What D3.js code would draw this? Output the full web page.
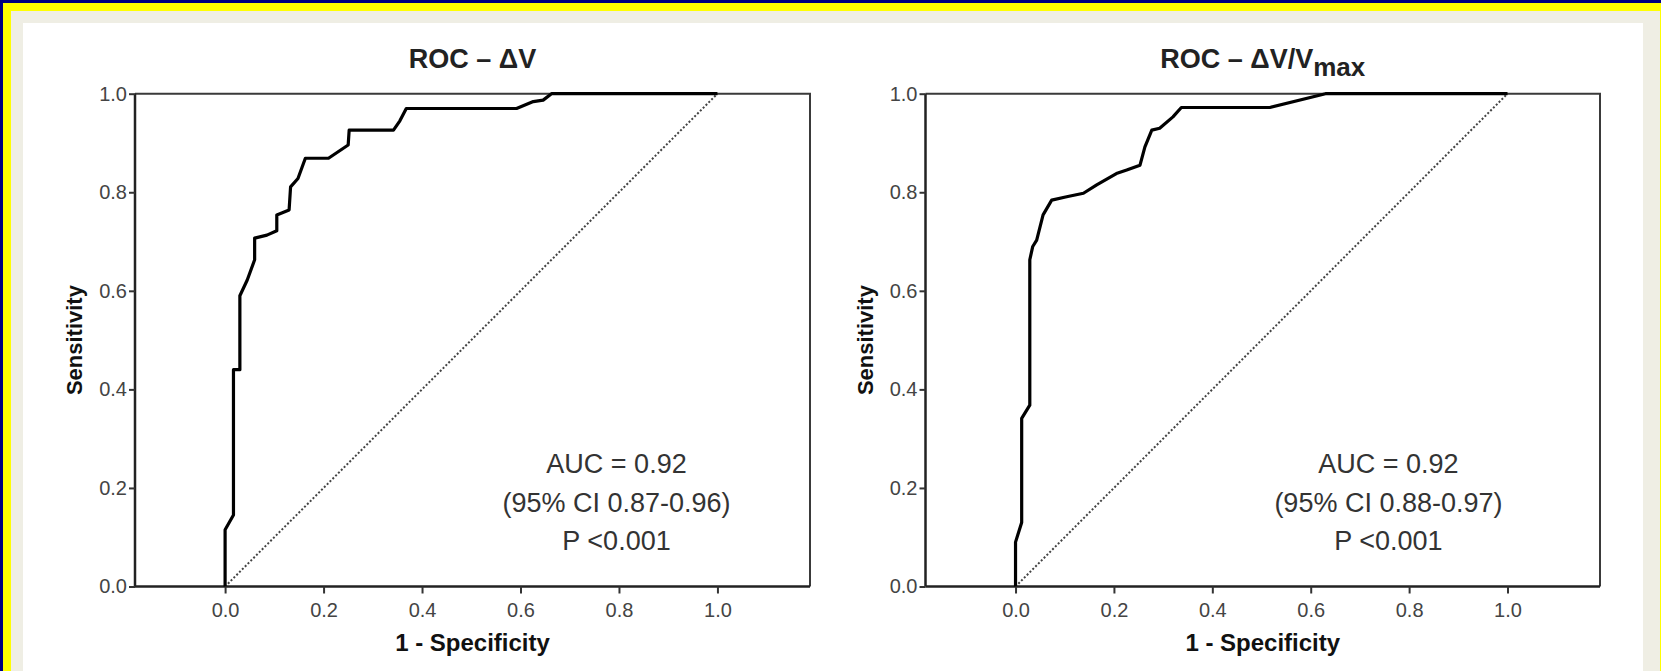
<!DOCTYPE html>
<html>
  <head>
    <title>ROC curves - dV and dV/Vmax</title>
    <script src="https://cdn.jsdelivr.net/npm/d3@7/dist/d3.min.js"></script>
    <style>
      body { margin: 0; background: #000080; }
      svg { display: block; }
      .narrow { font-family: "Liberation Sans Narrow", "Arial Narrow", "Liberation Sans", sans-serif; }
    </style>
  </head>
  <body>
    <svg id="svg" width="1661" height="671" xmlns="http://www.w3.org/2000/svg"></svg>
    <script>
      let svg = d3.select("svg");

      // ROC points, [1 - specificity, sensitivity]
      let rocDeltaV = [
        [0.000, 0.000], [0.000, 0.115], [0.017, 0.145], [0.017, 0.440],
        [0.030, 0.440], [0.030, 0.590], [0.045, 0.622], [0.060, 0.663],
        [0.060, 0.707], [0.085, 0.713], [0.105, 0.722], [0.105, 0.754],
        [0.130, 0.764], [0.133, 0.811], [0.148, 0.828], [0.163, 0.869],
        [0.210, 0.869], [0.250, 0.896], [0.252, 0.926], [0.342, 0.926],
        [0.355, 0.945], [0.368, 0.970], [0.592, 0.970], [0.626, 0.984],
        [0.646, 0.987], [0.663, 1.000], [1.000, 1.000]
      ];
      let rocDeltaVmax = [
        [0.000, 0.000], [0.000, 0.090], [0.0125, 0.130], [0.0125, 0.341],
        [0.029, 0.368], [0.029, 0.663], [0.035, 0.690], [0.043, 0.703],
        [0.056, 0.754], [0.0735, 0.784], [0.104, 0.791], [0.138, 0.798],
        [0.165, 0.815], [0.205, 0.838], [0.226, 0.845], [0.253, 0.855],
        [0.263, 0.892], [0.277, 0.926], [0.293, 0.930], [0.320, 0.953],
        [0.337, 0.972], [0.517, 0.972], [0.630, 1.000], [1.000, 1.000]
      ];
      let refLine = [[0, 0], [1, 1]];

      let xTicks = [0, 0.2, 0.4, 0.6, 0.8, 1.0];
      let yTicks = [0, 0.2, 0.4, 0.6, 0.8, 1.0];

      let statsDeltaV = ["AUC = 0.92", "(95% CI 0.87-0.96)", "P <0.001"];
      let statsDeltaVmax = ["AUC = 0.92", "(95% CI 0.88-0.97)", "P <0.001"];

      // Frame round the figure
      svg.append("rect").attr("x", 0).attr("y", 0).attr("width", 1661).attr("height", 671).attr("fill", "#000080");
      svg.append("rect").attr("x", 3).attr("y", 3).attr("width", 1658).attr("height", 668).attr("fill", "#ffff00");
      svg.append("rect").attr("x", 11).attr("y", 11).attr("width", 1649).attr("height", 660).attr("fill", "#efeee4");
      svg.append("rect").attr("x", 23).attr("y", 23).attr("width", 1620).attr("height", 648).attr("fill", "#ffffff");

      draw({ left: 135, right: 810, data: rocDeltaV, stats: statsDeltaV, statsX: 0.795, sub: null });
      draw({ left: 925.5, right: 1600, data: rocDeltaVmax, stats: statsDeltaVmax, statsX: 0.758, sub: "max" });

      // One ROC panel
      function draw(p) {
        let top = 93.7, bottom = 586.5;
        let x = d3.scaleLinear().domain([-0.183, 1.188]).range([p.left, p.right]);
        let y = d3.scaleLinear().domain([0, 1]).range([bottom, top]);
        let g = svg.append("g");

        // Box, top and right sides
        g.append("path")
          .attr("d", "M" + p.left + "," + top + "H" + p.right + "V" + bottom)
          .attr("fill", "none")
          .attr("stroke", "#3a3a3a")
          .attr("stroke-width", 2);

        // Axes
        let yAxis = g.append("g")
          .attr("transform", "translate(" + p.left + ",0)")
          .call(d3.axisLeft(y).tickValues(yTicks).tickFormat(d3.format(".1f")).tickSize(6).tickPadding(2));
        let xAxis = g.append("g")
          .attr("transform", "translate(0," + bottom + ")")
          .call(d3.axisBottom(x).tickValues(xTicks).tickFormat(d3.format(".1f")).tickSize(7).tickPadding(9));
        [xAxis, yAxis].forEach(function (a) {
          a.select(".domain").attr("stroke", "#222").attr("stroke-width", 2.5);
          a.selectAll(".tick line").attr("stroke", "#333").attr("stroke-width", 2);
          a.selectAll(".tick text")
            .attr("class", "narrow")
            .attr("fill", "#444")
            .style("font-size", "20px");
        });
        yAxis.select(".domain").attr("d", "M0," + top + "V" + bottom);
        xAxis.select(".domain").attr("d", "M" + p.left + ",0H" + p.right);

        // Reference diagonal
        g.append("path")
          .datum(refLine)
          .attr("d", d3.line().x((d) => x(d[0])).y((d) => y(d[1])))
          .attr("fill", "none")
          .attr("stroke", "#444")
          .attr("stroke-width", 2)
          .attr("stroke-dasharray", "2,2");

        // ROC curve
        g.append("path")
          .datum(p.data)
          .attr("d", d3.line().x((d) => x(d[0])).y((d) => y(d[1])))
          .attr("fill", "none")
          .attr("stroke", "#000")
          .attr("stroke-width", 3.2)
          .attr("stroke-linejoin", "round");

        // Title
        let cx = (p.left + p.right) / 2;
        let title = g.append("text")
          .attr("x", cx)
          .attr("y", 68)
          .attr("text-anchor", "middle")
          .attr("font-family", "Liberation Sans, Arial, sans-serif")
          .attr("font-weight", "bold")
          .attr("font-size", 27)
          .attr("fill", "#222")
          .text(p.sub ? "ROC \u2013 \u0394V/V" : "ROC \u2013 \u0394V");
        if (p.sub) {
          title.append("tspan").attr("dy", 8).attr("font-size", 26).text(p.sub);
        }

        // Axis titles
        g.append("text")
          .attr("class", "narrow")
          .attr("x", cx)
          .attr("y", 651)
          .attr("text-anchor", "middle")
          .attr("font-weight", "bold")
          .attr("font-size", 24)
          .attr("fill", "#111")
          .text("1 - Specificity");
        g.append("text")
          .attr("transform", "translate(" + (p.left - 53) + "," + (top + bottom) / 2 + ") rotate(-90)")
          .attr("text-anchor", "middle")
          .attr("font-family", "Liberation Sans, Arial, sans-serif")
          .attr("font-weight", "bold")
          .attr("font-size", 22)
          .attr("fill", "#111")
          .text("Sensitivity");

        // AUC annotation
        g.selectAll(".stat")
          .data(p.stats)
          .enter()
          .append("text")
          .attr("class", "stat narrow")
          .attr("x", x(p.statsX))
          .attr("y", (d, i) => 473 + i * 38.5)
          .attr("text-anchor", "middle")
          .attr("font-size", 27)
          .attr("fill", "#333")
          .text((d) => d);
      }
    </script>
  </body>
</html>
